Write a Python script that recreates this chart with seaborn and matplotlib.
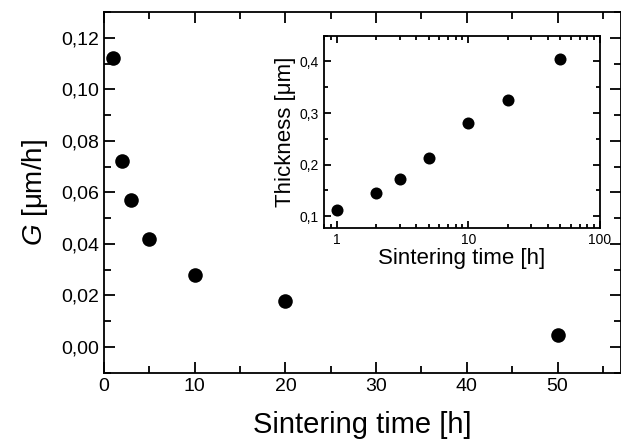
import matplotlib
matplotlib.use("Agg")
import matplotlib.pyplot as plt
import matplotlib.ticker as mticker
import seaborn as sns
import pandas as pd

# %% Data ----
sinter_time = [1, 2, 3, 5, 10, 20, 50]
growth_rate = [0.112, 0.072, 0.057, 0.042, 0.028, 0.018, 0.0045]
thickness = [0.112, 0.145, 0.172, 0.212, 0.280, 0.326, 0.405]

df = pd.DataFrame({"time": sinter_time, "G": growth_rate, "thick": thickness})

# %% Style ----
sns.set_style("ticks")
plt.rcParams["font.family"] = ["Liberation Sans", "DejaVu Sans"]
plt.rcParams["axes.linewidth"] = 1.3
plt.rcParams["mathtext.fontset"] = "custom"
plt.rcParams["mathtext.it"] = "Liberation Sans:italic"
plt.rcParams["mathtext.rm"] = "Liberation Sans"
plt.rcParams["text.color"] = "black"
plt.rcParams["axes.labelcolor"] = "black"
plt.rcParams["axes.edgecolor"] = "black"


def comma_fmt(decimals):
    return mticker.FuncFormatter(lambda v, p: f"{v:.{decimals}f}".replace(".", ","))


def style_ticks(ax, major_len, minor_len, size):
    ax.tick_params(which="both", direction="in", top=True, right=True,
                   width=1.3, colors="black", labelsize=size)
    ax.tick_params(which="major", length=major_len)
    ax.tick_params(which="minor", length=minor_len)


fig = plt.figure(figsize=(6.21, 4.45), dpi=100)

# %% Main plot ----
ax = fig.add_axes([0.1675, 0.1625, 0.8325, 0.8105])
sns.scatterplot(data=df, x="time", y="G", ax=ax, s=110, color="black",
                edgecolor="black", linewidth=0)
ax.set_xlim(0, 57)
ax.set_ylim(-0.01, 0.13)
ax.xaxis.set_major_locator(mticker.MultipleLocator(10))
ax.xaxis.set_minor_locator(mticker.MultipleLocator(5))
ax.yaxis.set_major_locator(mticker.MultipleLocator(0.02))
ax.yaxis.set_minor_locator(mticker.MultipleLocator(0.01))
ax.yaxis.set_major_formatter(comma_fmt(2))
style_ticks(ax, 8, 5, 14)
ax.set_xlabel("Sintering time [h]", fontsize=21, labelpad=12)
ax.set_ylabel(r"$G$ [μm/h]", fontsize=20, labelpad=8)

# %% Inset ----
ins = fig.add_axes([0.5217, 0.4876, 0.4443, 0.4322])
sns.scatterplot(data=df, x="time", y="thick", ax=ins, s=75, color="black",
                edgecolor="black", linewidth=0)
ins.set_xscale("log")
ins.set_xlim(0.8, 100)
ins.set_ylim(0.077, 0.45)
ins.xaxis.set_major_locator(mticker.LogLocator(base=10))
ins.xaxis.set_minor_locator(mticker.LogLocator(base=10, subs=range(2, 10)))
ins.xaxis.set_major_formatter(mticker.FuncFormatter(lambda v, p: f"{v:g}"))
ins.xaxis.set_minor_formatter(mticker.NullFormatter())
ins.yaxis.set_major_locator(mticker.MultipleLocator(0.1))
ins.yaxis.set_minor_locator(mticker.MultipleLocator(0.05))
ins.yaxis.set_major_formatter(comma_fmt(1))
style_ticks(ins, 5, 3, 10)
ins.set_xlabel("Sintering time [h]", fontsize=16, labelpad=1)
ins.set_ylabel("Thickness [μm]", fontsize=16, labelpad=3)

fig.savefig("out.png", dpi=100)
